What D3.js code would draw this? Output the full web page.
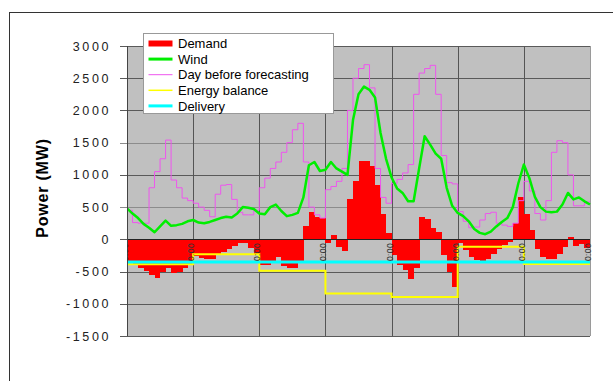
<!DOCTYPE html>
<html>
<head>
<meta charset="utf-8">
<script src="https://cdn.jsdelivr.net/npm/d3@7"></script>
<style>
  body { margin: 0; background: #fff; }
  svg { display: block; font-family: Arial, "Liberation Sans", sans-serif; }
</style>
</head>
<body>
<div id="chart"></div>
<script>
// one value every 2 hours over 7 days (hour 0 .. 168)
var hours = d3.range(0, 170, 2);
var dayTicks = [0, 24, 48, 72, 96, 120, 144, 168];
var dayLabels = ["0:00", "0:00", "0:00", "0:00", "0:00", "0:00", "0:00", "0:00"];
var yTicks = [3000, 2500, 2000, 1500, 1000, 500, 0, -500, -1000, -1500];

// demand bars, one per 2 h block
var demand = [
  -360, -380, -440, -490, -550, -600, -500, -450, -520, -510, -450, -400,
  -260, -290, -310, -300, -250, -200, -150, -110, -50, -60, -130, -220,
  -400, -400, -330, -270, -420, -450, -440, -350, 200, 420, 340, 330,
  -60, 60, -120, -180, 620, 900, 1220, 1220, 1140, 850, 400, 100,
  -250, -400, -470, -620, -450, 350, 320, 180, 120, -250, -500, -740,
  -60, -170, -270, -320, -340, -300, -220, -150, -90, -40, 250, 650,
  400, 150, -150, -270, -300, -300, -230, -120, 30, -110, -80, -130
];

// measured wind, at every point of hours[]
var wind = [
  480, 400, 330, 240, 180, 110, 200, 290, 210, 220, 240, 280,
  300, 260, 250, 270, 300, 330, 350, 340, 400, 500, 490, 470,
  400, 390, 500, 540, 440, 360, 380, 410, 650, 1150, 1200, 1060,
  1080, 1200, 1100, 1050, 1000, 1850, 2250, 2370, 2320, 2200, 1650, 1250,
  960, 790, 720, 590, 590, 1100, 1600, 1470, 1330, 1250, 800, 520,
  410, 360, 280, 160, 100, 80, 120, 200, 270, 330, 500, 870,
  1160, 950, 660, 500, 430, 420, 430, 540, 720, 620, 650, 590,
  540
];

// day before forecast, stepped per 2 h block
var forecast = [
  450, 260, 250, 250, 800, 1050, 1250, 1540, 920, 800, 640, 600,
  560, 500, 450, 350, 700, 840, 850, 620, 420, 380, 380, 450,
  800, 950, 1100, 1200, 1350, 1500, 1700, 1800, 1200, 500, 380, 330,
  770, 820, 900, 1100, 2000, 2500, 2650, 2710, 2350, 1100, 650, 560,
  870, 930, 1030, 1160, 2250, 2580, 2650, 2700, 2250, 1300, 880, 860,
  430, 280, 180, 190, 300, 400, 420, 250, 220, 200, 250, 600,
  900, 750, 400, 300, 600, 1350, 1530, 1500, 1000, 520, 520, 580
];

// one value per day
var balance = [-385, -230, -488, -840, -893, -114, -384];
var delivery = [-350, -350, -350, -350, -350, -350, -350];

var legendNames = ["Demand", "Wind", "Day before forecasting", "Energy balance", "Delivery"];
var legendColors = ["#ff0000", "#00ee00", "#ee55ee", "#ffff00", "#00ffff"];
var legendWidths = [6, 3, 1, 1.5, 3];

var W = 613, H = 381;
var pL = 127, pR = 590, pT = 46, pB = 336;

var svg = d3.select("#chart").append("svg")
  .attr("width", W)
  .attr("height", H);

// outer frame
svg.append("rect")
  .attr("x", 9.5).attr("y", 12.5)
  .attr("width", W).attr("height", H)
  .attr("fill", "#fff")
  .attr("stroke", "#333");

var x = d3.scaleLinear().domain([0, 168]).range([pL, pR]);
var y = d3.scaleLinear().domain([-1500, 3000]).range([pB, pT]);

svg.append("defs").append("clipPath").attr("id", "clip")
  .append("rect")
  .attr("x", pL).attr("y", pT - 2)
  .attr("width", pR - pL + 2).attr("height", pB - pT + 4);

svg.append("rect")
  .attr("x", pL).attr("y", pT)
  .attr("width", pR - pL).attr("height", pB - pT)
  .attr("fill", "#c0c0c0");

// grid
svg.append("g").selectAll("line").data(yTicks).enter().append("line")
  .attr("x1", pL - 7).attr("x2", pR)
  .attr("y1", function(d) { return Math.round(y(d)) + 0.5; })
  .attr("y2", function(d) { return Math.round(y(d)) + 0.5; })
  .attr("stroke", function(d) { return (d == 500 || d == 1500) ? "#8c8c8c" : "#5a5a5a"; })
  .attr("stroke-width", 1);

svg.append("g").selectAll("line").data(dayTicks).enter().append("line")
  .attr("x1", function(d) { return Math.round(x(d)) + 0.5; })
  .attr("x2", function(d) { return Math.round(x(d)) + 0.5; })
  .attr("y1", pT).attr("y2", pB)
  .attr("stroke", function(d) { return d == 168 ? "#9a9a9a" : "#555"; });

var plot = svg.append("g").attr("clip-path", "url(#clip)");

// demand
plot.append("g").selectAll("rect").data(demand).enter().append("rect")
  .attr("x", function(d, i) { return x(hours[i]); })
  .attr("width", x(2) - x(0) + 0.4)
  .attr("y", function(d) { return y(Math.max(0, d)); })
  .attr("height", function(d) { return Math.abs(y(d) - y(0)); })
  .attr("fill", "#ff0000")
  .attr("shape-rendering", "crispEdges");

// zero line
plot.append("line")
  .attr("x1", pL).attr("x2", pR)
  .attr("y1", Math.round(y(0)) + 0.5).attr("y2", Math.round(y(0)) + 0.5)
  .attr("stroke", "#222");

var stepLine = d3.line()
  .x(function(d) { return x(d[0]); })
  .y(function(d) { return y(d[1]); })
  .curve(d3.curveStepAfter);

var fcPts = forecast.map(function(v, i) { return [hours[i], v]; });
fcPts.push([168, forecast[forecast.length - 1]]);
plot.append("path")
  .attr("d", stepLine(fcPts))
  .attr("fill", "none")
  .attr("stroke", "#ee55ee")
  .attr("stroke-width", 1);

var windLine = d3.line()
  .x(function(d, i) { return x(hours[i]); })
  .y(function(d) { return y(d); });

plot.append("path")
  .attr("d", windLine(wind))
  .attr("fill", "none")
  .attr("stroke", "#00ee00")
  .attr("stroke-width", 2.5)
  .attr("stroke-linejoin", "round");

var balPts = balance.map(function(v, i) { return [i * 24, v]; });
balPts.push([168, balance[6]]);
plot.append("path")
  .attr("d", stepLine(balPts))
  .attr("fill", "none")
  .attr("stroke", "#ffff00")
  .attr("stroke-width", 2);

var delPts = delivery.map(function(v, i) { return [i * 24, v]; });
delPts.push([168, delivery[6]]);
plot.append("path")
  .attr("d", stepLine(delPts))
  .attr("fill", "none")
  .attr("stroke", "#00ffff")
  .attr("stroke-width", 3);

// left axis line
svg.append("line")
  .attr("x1", pL + 0.5).attr("x2", pL + 0.5)
  .attr("y1", pT).attr("y2", pB)
  .attr("stroke", "#444");

// y tick labels
svg.append("g").selectAll("text").data(yTicks).enter().append("text")
  .attr("x", 111)
  .attr("y", function(d) { return y(d) + 4.5; })
  .attr("text-anchor", "end")
  .attr("font-size", "12.5px")
  .attr("letter-spacing", "2.6px")
  .attr("fill", "#222")
  .text(function(d) { return d; });

// day labels, rotated
var xLab = svg.append("g").attr("clip-path", "url(#clip)");
xLab.selectAll("text").data(dayTicks).enter().append("text")
  .attr("transform", function(d) { return "translate(" + (x(d) + 1) + "," + 252 + ") rotate(-90)"; })
  .attr("text-anchor", "middle")
  .attr("font-size", "8.5px")
  .attr("letter-spacing", "0.4px")
  .attr("fill", "#333")
  .text(function(d, i) { return dayLabels[i]; });

svg.append("text")
  .attr("transform", "translate(48,188) rotate(-90)")
  .attr("text-anchor", "middle")
  .attr("font-size", "16px")
  .attr("font-weight", "bold")
  .attr("letter-spacing", "0.8px")
  .attr("fill", "#000")
  .text("Power (MW)");

// legend
var legend = svg.append("g").attr("transform", "translate(143.5,33.5)");
legend.append("rect")
  .attr("width", 190).attr("height", 80)
  .attr("fill", "#fff")
  .attr("stroke", "#999");

var item = legend.selectAll("g.item").data(legendNames).enter().append("g")
  .attr("class", "item")
  .attr("transform", function(d, i) { return "translate(0," + (10 + i * 15.6) + ")"; });

item.append("line")
  .attr("x1", 5).attr("x2", 29)
  .attr("stroke", function(d, i) { return legendColors[i]; })
  .attr("stroke-width", function(d, i) { return legendWidths[i]; });

item.append("text")
  .attr("x", 34.5)
  .attr("y", 4.7)
  .attr("font-size", "13px")
  .attr("fill", "#000")
  .text(function(d) { return d; });
</script>
</body>
</html>
